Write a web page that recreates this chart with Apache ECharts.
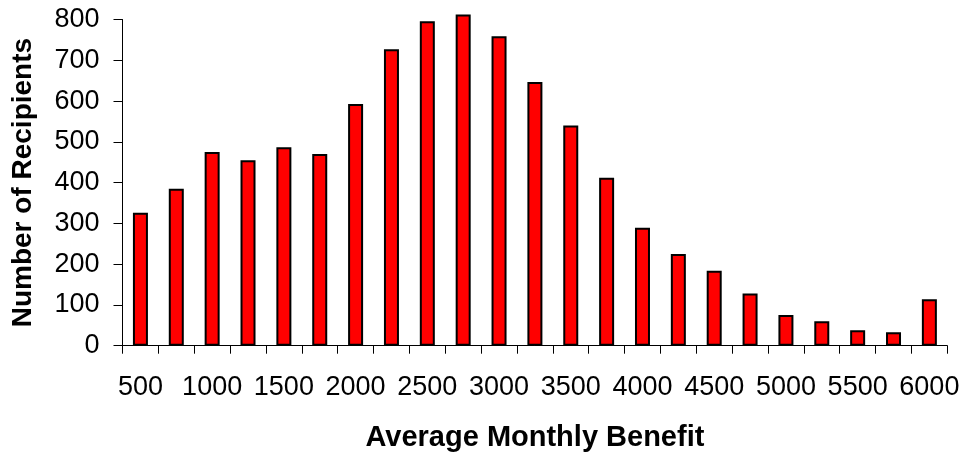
<!DOCTYPE html>
<html>
<head>
<meta charset="utf-8">
<script src="https://cdn.jsdelivr.net/npm/echarts@6/dist/echarts.min.js"></script>
<style>
  html, body { margin: 0; padding: 0; background: #fff; }
  #chart { width: 965px; height: 455px; }
</style>
</head>
<body>
<div id="chart"></div>
<script>
// Benefit brackets (monthly amount) and recipient counts per bracket
const benefitBrackets = ['500', '750', '1000', '1250', '1500', '1750', '2000', '2250', '2500', '2750',
  '3000', '3250', '3500', '3750', '4000', '4250', '4500', '4750', '5000', '5250', '5500', '5750', '6000'];
const recipientCounts = [326, 385, 475, 455, 487, 470, 593, 727, 796, 812,
  759, 647, 540, 412, 289, 225, 184, 128, 75, 60, 38, 33, 114];
const yTicks = { min: 0, max: 800, step: 100 };

const FONT = '"Liberation Sans", Arial, sans-serif';

const chart = echarts.init(document.getElementById('chart'), null, { renderer: 'canvas' });
chart.setOption({
  animation: false,
  backgroundColor: '#ffffff',
  grid: {
    left: 122.5, right: 17.7, top: 19.5, bottom: 109.3,
    containLabel: false, outerBoundsMode: 'none'
  },
  xAxis: {
    type: 'category',
    data: benefitBrackets,
    name: 'Average Monthly Benefit',
    nameLocation: 'middle',
    nameGap: 78,
    nameTextStyle: { fontFamily: FONT, fontWeight: 'bold', fontSize: 29, color: '#000' },
    axisLine: { lineStyle: { color: '#000', width: 1 } },
    axisTick: { show: true, interval: 0, length: 8, alignWithLabel: false, lineStyle: { color: '#000' } },
    axisLabel: { interval: 1, margin: 28, fontFamily: FONT, fontSize: 27, color: '#000' },
    splitLine: { show: false }
  },
  yAxis: {
    type: 'value',
    min: yTicks.min,
    max: yTicks.max,
    interval: yTicks.step,
    name: 'Number of Recipients',
    nameLocation: 'middle',
    nameGap: 85,
    nameTextStyle: { fontFamily: FONT, fontWeight: 'bold', fontSize: 28, color: '#000' },
    axisLine: { show: true, lineStyle: { color: '#000', width: 1 } },
    axisTick: { show: true, length: 9, lineStyle: { color: '#000' } },
    axisLabel: { margin: 23, fontFamily: FONT, fontSize: 27, color: '#000' },
    splitLine: { show: false }
  },
  series: [{
    type: 'bar',
    data: recipientCounts,
    barWidth: 15,
    clip: false,
    itemStyle: { color: '#ff0000', borderColor: '#000', borderWidth: 2 }
  }]
});
</script>
</body>
</html>
